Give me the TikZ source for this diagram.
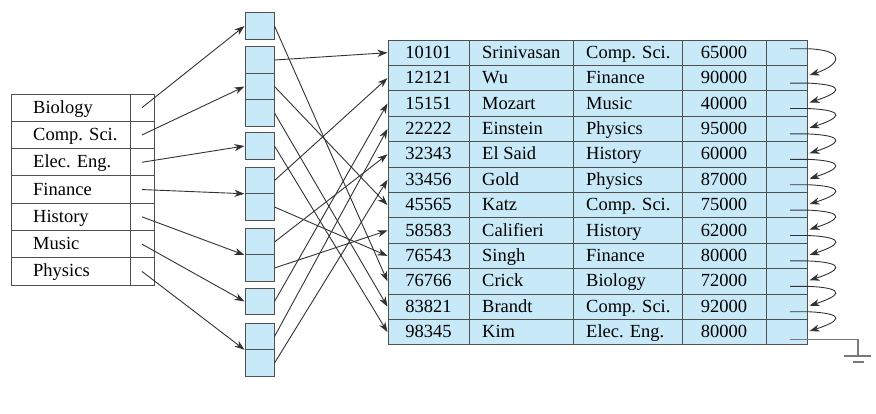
\documentclass[tikz,border=0pt]{standalone}
\usepackage{fontspec}
\setmainfont{Liberation Serif}
\usetikzlibrary{arrows.meta,calc}
\definecolor{cellblue}{RGB}{200,233,248}
\definecolor{edgegray}{RGB}{80,80,80}
\definecolor{arrowgray}{RGB}{50,50,50}
\definecolor{gndgray}{RGB}{120,120,120}
\begin{document}
\begin{tikzpicture}[x=1pt,y=-1pt,
  every node/.style={font=\fontsize{18.5}{20}\selectfont},
  lcell/.style={draw=edgegray, line width=1pt, minimum height=27.3pt, inner sep=0pt},
  bcell/.style={draw=edgegray, fill=cellblue, line width=1pt, minimum width=29pt, minimum height=26.5pt, inner sep=0pt},
  tcell/.style={draw=edgegray, fill=cellblue, line width=1pt, minimum height=25.4pt, inner sep=0pt},
  ptr/.style={draw=arrowgray, line width=0.9pt, -{Stealth[length=10pt,width=7pt,inset=3pt]}},
  gnd/.style={draw=gndgray, line width=1.1pt},
  txt/.style={anchor=base west, inner sep=0pt},
  ctxt/.style={anchor=base, inner sep=0pt}
]
\useasboundingbox (0,0) rectangle (876,413);

% left index table
\foreach \t [count=\i] in {Biology, Comp. Sci., Elec. Eng., Finance, History, Music, Physics}{
  \pgfmathsetmacro\yc{80.35+27.3*\i}
  \node[lcell, minimum width=119pt] (N\i) at (70.5,\yc) {};
  \node[lcell, minimum width=24pt] (P\i) at (142,\yc) {};
  \node[txt] (NT\i) at (33,\yc+5.5) {\t};
}

% buckets
\foreach \yc [count=\i] in {26,60,86.5,113,146,180.5,207,242,268,301.5,336.5,363}{
  \node[bcell] (B\i) at (259.5,\yc) {};
}

% main table
\foreach \rid/\rnm/\rdept/\rsal [count=\i] in {
  10101/Srinivasan/Comp. Sci./65000,
  12121/Wu/Finance/90000,
  15151/Mozart/Music/40000,
  22222/Einstein/Physics/95000,
  32343/El Said/History/60000,
  33456/Gold/Physics/87000,
  45565/Katz/Comp. Sci./75000,
  58583/Califieri/History/62000,
  76543/Singh/Finance/80000,
  76766/Crick/Biology/72000,
  83821/Brandt/Comp. Sci./92000,
  98345/Kim/Elec. Eng./80000}{
  \pgfmathsetmacro\yc{27.3+25.4*\i}
  \node[tcell, minimum width=81pt] (R\i) at (428.5,\yc) {};
  \node[tcell, minimum width=104pt] (S\i) at (521,\yc) {};
  \node[tcell, minimum width=109pt] (D\i) at (627.5,\yc) {};
  \node[tcell, minimum width=84pt] (V\i) at (724,\yc) {};
  \node[tcell, minimum width=41pt] (Q\i) at (786.5,\yc) {};
  \node[ctxt] (RT\i) at (428.5,\yc+5.5) {\rid};
  \node[txt] (ST\i) at (482,\yc+5.5) {\rnm};
  \node[txt] (DT\i) at (586,\yc+5.5) {\rdept};
  \node[ctxt] (VT\i) at (724,\yc+5.5) {\rsal};
}

% index -> buckets
\draw[ptr] (P1.center) -- (B1.west);
\draw[ptr] (P2.center) -- (B3.west);
\draw[ptr] (P3.center) -- (B5.west);
\draw[ptr] (P4.center) -- ($(B6.west)!0.5!(B7.west)$);
\draw[ptr] (P5.center) -- ($(B8.west)!0.5!(B9.west)$);
\draw[ptr] (P6.center) -- (B10.west);
\draw[ptr] (P7.center) -- ($(B11.west)!0.5!(B12.west)$);

% buckets -> records
\foreach \a/\b in {1/10,2/1,3/7,4/11,5/12,6/2,7/9,8/5,9/8,10/3,11/4,12/6}{
  \draw[ptr] (B\a.east) -- (R\b.west);
}

% record chain
\draw[ptr] ($(Q1.center)+(3.5,-4)$) -- ++(18,0) .. controls +(42,2) and +(28,-9) .. ($(Q2.east)+(2,-3)$);
\foreach \i [evaluate=\i as \j using int(\i+1)] in {2,...,11}{
  \draw[ptr] ($(Q\i.center)+(3.5,5)$) -- ++(18,0) .. controls +(42,2) and +(28,-9) .. ($(Q\j.east)+(2,-1)$);
}

% ground
\coordinate (g1) at (858,356);
\draw[gnd] ($(Q12.center)+(3.5,7)$) -| (g1);
\coordinate (g2) at (844,356);
\coordinate (g3) at (871,356);
\coordinate (g4) at (853,362);
\coordinate (g5) at (864,362);
\draw[gnd] (g2) -- (g3);
\draw[gnd] (g4) -- (g5);
\end{tikzpicture}
\end{document}
